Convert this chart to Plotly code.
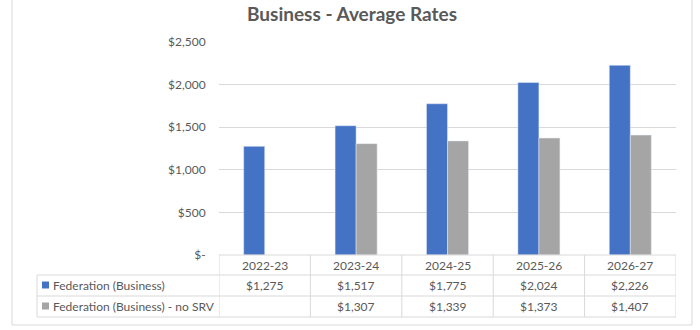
import plotly.graph_objects as go

categories = ["2022-23", "2023-24", "2024-25", "2025-26", "2026-27"]
federation = [1275, 1517, 1775, 2024, 2226]
federation_no_srv = [None, 1307, 1339, 1373, 1407]
series_names = ["Federation (Business)", "Federation (Business) - no SRV"]
tick_vals = [0, 500, 1000, 1500, 2000, 2500]
tick_text = ["$-", "$500", "$1,000", "$1,500", "$2,000", "$2,500"]

W, H = 700, 330
BLUE = "#4472C4"
GRAY = "#A5A5A5"
TXT = "#595959"
LINE = "#D9D9D9"
FONT = "Lato"

def px(x):
    return x / W

def py(y):
    return 1 - y / H

fig = go.Figure()
fig.add_trace(go.Bar(x=categories, y=federation, name=series_names[0], marker_color=BLUE))
fig.add_trace(go.Bar(x=categories, y=federation_no_srv, name=series_names[1], marker_color=GRAY))

shapes = []
annotations = []

# chart border
shapes.append(dict(type="rect", xref="paper", yref="paper", x0=px(12), x1=px(692), y0=py(325), y1=py(-2),
                   line=dict(color=LINE, width=1), fillcolor="rgba(0,0,0,0)", layer="below"))

# table lines
n = len(categories)
table_rows_y = [255, 275, 296, 317]
shapes.append(dict(type="line", xref="x", yref="paper", x0=-0.5, x1=n - 0.5, y0=py(255), y1=py(255),
                   line=dict(color=LINE, width=1)))
for yy in table_rows_y[1:]:
    shapes.append(dict(type="line", xref="paper", yref="paper", x0=px(37), x1=px(676), y0=py(yy), y1=py(yy),
                       line=dict(color=LINE, width=1)))
for i in range(n + 1):
    shapes.append(dict(type="line", xref="x", yref="paper", x0=i - 0.5, x1=i - 0.5, y0=py(255), y1=py(317),
                       line=dict(color=LINE, width=1)))
shapes.append(dict(type="line", xref="paper", yref="paper", x0=px(37), x1=px(37), y0=py(275), y1=py(317),
                   line=dict(color=LINE, width=1)))

# legend keys
for k, (col, yc) in enumerate([(BLUE, 285), (GRAY, 306)]):
    shapes.append(dict(type="rect", xref="paper", yref="paper", x0=px(42), x1=px(49), y0=py(yc + 3.5), y1=py(yc - 3.5),
                       line=dict(width=0), fillcolor=col))
    annotations.append(dict(text=series_names[k], xref="paper", yref="paper", x=px(51), y=py(yc),
                            xanchor="left", yanchor="middle", showarrow=False,
                            font=dict(family=FONT, size=12, color=TXT)))

def fmt(v):
    return "" if v is None else "${:,}".format(v)

for i, c in enumerate(categories):
    annotations.append(dict(text=c, xref="x", yref="paper", x=c, y=py(265), xanchor="center", yanchor="middle",
                            showarrow=False, font=dict(family=FONT, size=12, color=TXT)))
    for series, yc in [(federation, 285.5), (federation_no_srv, 306.5)]:
        t = fmt(series[i])
        if t:
            annotations.append(dict(text=t, xref="x", yref="paper", x=c, y=py(yc), xanchor="center",
                                    yanchor="middle", showarrow=False, font=dict(family=FONT, size=12, color=TXT)))

# title
annotations.append(dict(text="<b>Business - Average Rates</b>", xref="paper", yref="paper", x=px(352), y=py(13),
                        xanchor="center", yanchor="middle", showarrow=False,
                        font=dict(family=FONT, size=19, color=TXT)))

fig.update_layout(
    width=W, height=H,
    margin=dict(l=0, r=0, t=0, b=0, pad=0, autoexpand=False),
    paper_bgcolor="white", plot_bgcolor="white",
    barmode="group", bargap=0.54, bargroupgap=0,
    showlegend=False,
    font=dict(family=FONT, size=12, color=TXT),
    shapes=shapes, annotations=annotations,
    xaxis=dict(domain=[px(219), px(676)], range=[-0.5, n - 0.5], type="category", automargin=False,
               showticklabels=False, showgrid=False, zeroline=False, showline=False, ticks=""),
    yaxis=dict(domain=[py(255), py(42)], range=[0, 2500], tickvals=tick_vals, ticktext=tick_text,
               automargin=False,
               showgrid=True, gridcolor=LINE, gridwidth=1, zeroline=False, showline=False,
               ticks="outside", ticklen=10, tickcolor="rgba(0,0,0,0)",
               tickfont=dict(family=FONT, size=12, color=TXT)),
)

fig.write_html("out.html")
